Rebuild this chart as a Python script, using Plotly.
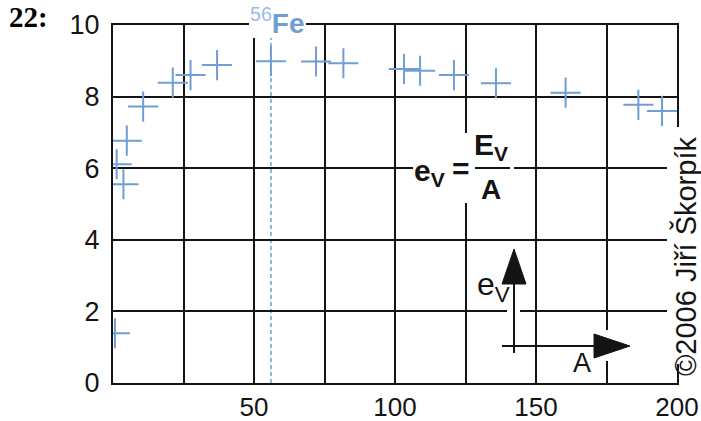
import plotly.graph_objects as go

# ---- data ----
mass_number = [0.7, 1.3, 3.7, 4.9, 10.7, 21.2, 27.5, 36.9, 56, 72, 81.7,
               103.2, 108.9, 120.9, 135.8, 160.5, 186.3, 194.7]
binding_per_nucleon = [1.39, 6.11, 5.55, 6.77, 7.72, 8.39, 8.6, 8.88, 8.99, 8.98, 8.93,
                       8.77, 8.72, 8.6, 8.37, 8.11, 7.77, 7.6]
fe_mass_number = 56
x_tick_values = [50, 100, 150, 200]
x_tick_labels = ["50", "100", "150", "200"]
x_grid_step = 25
y_tick_values = [0, 2, 4, 6, 8, 10]
y_tick_labels = ["0", "2", "4", "6", "8", "10"]

# ---- geometry helpers (plot area in pixels) ----
W, H = 701, 421
PL, PR, PT, PB = 113, 677, 25, 383


def px(x):
    return (x - PL) / (PR - PL)


def py(y):
    return (PB - y) / (PB - PT)


SANS = "Liberation Sans, Arial, sans-serif"
BLUE = "#6f9ed6"
LIGHTBLUE = "#86addf"
INK = "#141414"

fig = go.Figure()
fig.add_trace(go.Scatter(
    x=mass_number, y=binding_per_nucleon, mode="markers",
    marker=dict(symbol="cross-thin", size=21.5, line=dict(color=BLUE, width=2)),
    hoverinfo="skip", showlegend=False,
))

shapes = []
# dashed line at 56Fe
shapes.append(dict(type="line", xref="x", yref="paper", x0=fe_mass_number, x1=fe_mass_number,
                   y0=0, y1=py(38), line=dict(color=LIGHTBLUE, width=1.8, dash="4px,3px"),
                   layer="below"))


def white_box(x0, y0, x1, y1):
    shapes.append(dict(type="rect", xref="paper", yref="paper", x0=px(x0), x1=px(x1),
                       y0=py(y1), y1=py(y0), fillcolor="white", line=dict(width=0),
                       layer="above"))


white_box(249, -5, 306, 38)      # 56Fe label
white_box(413, 133, 514, 203)    # formula
white_box(667, 127, 705, 364)    # copyright
white_box(507, 306, 520, 316)    # gap around arrow shaft
white_box(591, 330, 634, 361)    # gap around arrow head


def seg(x0, y0, x1, y1, color=INK, width=2):
    shapes.append(dict(type="line", xref="paper", yref="paper", x0=px(x0), y0=py(y0),
                       x1=px(x1), y1=py(y1), line=dict(color=color, width=width),
                       layer="above"))


def tri(points):
    path = "M " + " L ".join(f"{px(a):.5f},{py(b):.5f}" for a, b in points) + " Z"
    shapes.append(dict(type="path", xref="paper", yref="paper", path=path,
                       fillcolor=INK, line=dict(color=INK, width=1), layer="above"))


# fraction bar
seg(475, 168, 510, 168)
# axis-sketch arrows
seg(514, 353, 514, 284)
seg(502, 346, 594, 346)
tri([(502, 284), (526, 284), (514, 249)])
tri([(594, 334), (594, 358), (630, 346)])

annotations = []


def note(text, x, y, size, color=INK, family=SANS, angle=0, xanchor="center"):
    annotations.append(dict(text=text, xref="paper", yref="paper", x=px(x), y=py(y),
                            xanchor=xanchor, yanchor="middle", showarrow=False,
                            textangle=angle, font=dict(family=family, size=size, color=color)))


note("<b>22:</b>", 28, 17, 29, color="#000", family="Liberation Serif, Times New Roman, serif")
note("<span style='color:#9cbce6'><sup>56</sup></span><b>Fe</b>", 277, 21, 28, color=BLUE)
note("<b>e<sub>V</sub></b>", 429, 172, 30)
note("<b>=</b>", 461, 168, 30)
note("<b>E<sub>V</sub></b>", 491, 146, 30)
note("<b>A</b>", 491, 189, 28)
note("e<sub>V</sub>", 493, 286, 32)
note("A", 582, 363, 27)
note("©2006 Jiří Škorpík", 685, 257, 29, angle=-90)
fig.update_layout(shapes=shapes, annotations=annotations)

axis_common = dict(showgrid=True, gridcolor=INK, gridwidth=2, showline=True, linecolor=INK,
                   linewidth=2, mirror=True, zeroline=False, ticks="", automargin=False,
                   fixedrange=True)
fig.update_xaxes(range=[0, 200], tickmode="array", tickvals=x_tick_values,
                 ticktext=x_tick_labels, ticklabelstandoff=0,
                 minor=dict(tick0=0, dtick=x_grid_step, showgrid=True, gridcolor=INK,
                            gridwidth=2, ticks=""),
                 tickfont=dict(family=SANS, size=26, color=INK), **axis_common)
fig.update_yaxes(range=[0, 10], tickmode="array", tickvals=y_tick_values,
                 ticktext=y_tick_labels, ticklabelstandoff=6,
                 tickfont=dict(family=SANS, size=27, color=INK), **axis_common)

fig.update_layout(
    template="none", width=W, height=H,
    margin=dict(l=PL, r=W - PR, t=PT, b=H - PB, pad=0),
    paper_bgcolor="white", plot_bgcolor="white", showlegend=False,
)
fig.write_html("out.html", config={"displayModeBar": False},
               post_script="document.body.style.margin='0px';")
